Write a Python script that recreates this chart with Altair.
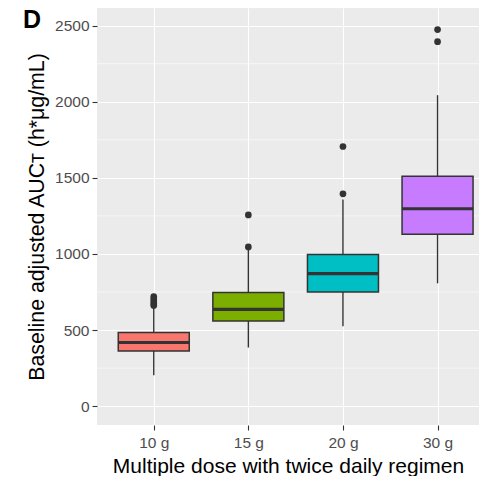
import altair as alt
import pandas as pd
import json

categories = ["10 g", "15 g", "20 g", "30 g"]
q1 = [363, 560, 750, 1129]
median = [418, 636, 870, 1297]
q3 = [484, 746, 997, 1511]
whisker_lo = [203, 385, 525, 807]
whisker_hi = [656, 1030, 1358, 2043]
colors = ["#F8766D", "#7CAE00", "#00BFC4", "#C77CFF"]

outlier_cat = ["10 g", "10 g", "10 g", "10 g", "10 g", "15 g", "15 g", "20 g", "20 g", "30 g", "30 g"]
outlier_val = [662, 675, 690, 705, 720, 1046, 1256, 1395, 1706, 2395, 2474]

major_ticks = [0, 500, 1000, 1500, 2000, 2500]
minor_ticks = [250, 750, 1250, 1750, 2250]

idx = {c: i + 1 for i, c in enumerate(categories)}
box = pd.DataFrame({"dose": categories, "pos": [idx[c] for c in categories],
                    "q1": q1, "median": median, "q3": q3, "lo": whisker_lo, "hi": whisker_hi})
outl = pd.DataFrame({"dose": outlier_cat, "pos": [idx[c] for c in outlier_cat], "value": outlier_val})

W, H = 382, 417
xdom = [0.4, 0.4 + W / 94.6]
ydom = [-124, 2616]
xscale = alt.Scale(domain=xdom, nice=False, zero=False, padding=0)
yscale = alt.Scale(domain=ydom, nice=False, zero=False, padding=0)

FONT = "Liberation Sans"
lab_expr = json.dumps(categories) + "[datum.value - 1]"
xaxis = alt.Axis(title="Multiple dose with twice daily regimen", values=[1, 2, 3, 4],
                 labelExpr=lab_expr, labelAngle=0,
                 grid=True, gridColor="white", gridWidth=1.1,
                 domain=False, tickColor="#333333", tickSize=5, tickWidth=1.1,
                 labelColor="#4d4d4d", labelFontSize=15.5, labelPadding=5,
                 titleFontSize=21, titleFontWeight="normal", titleColor="black",
                 titlePadding=5, labelFont=FONT, titleFont=FONT)
yaxis = alt.Axis(title="Baseline adjusted AUCᴛ (h*μg/mL)", values=major_ticks, format="d",
                 grid=True, gridColor="white", gridWidth=1.1, domain=False,
                 tickColor="#333333", tickSize=5, tickWidth=1.1,
                 labelColor="#4d4d4d", labelFontSize=15.5, labelPadding=3,
                 titleFontSize=21.3, titleFontWeight="normal", titleColor="black",
                 titlePadding=7, labelFont=FONT, titleFont=FONT)

base = alt.Chart(box)

minor = alt.Chart(pd.DataFrame({"v": minor_ticks})).mark_rule(
    color="white", strokeWidth=0.55).encode(
    y=alt.Y("v:Q", scale=yscale, axis=yaxis), x=alt.value(0), x2=alt.value(W))

whisk_up = base.mark_rule(color="#333333", strokeWidth=1.4).encode(
    x=alt.X("pos:Q", scale=xscale, axis=xaxis), y=alt.Y("q3:Q", scale=yscale), y2="hi:Q")
whisk_dn = base.mark_rule(color="#333333", strokeWidth=1.4).encode(
    x=alt.X("pos:Q", scale=xscale), y=alt.Y("lo:Q", scale=yscale), y2="q1:Q")
boxes = base.mark_bar(size=71, stroke="#333333", strokeWidth=1.5).encode(
    x=alt.X("pos:Q", scale=xscale), y=alt.Y("q1:Q", scale=yscale), y2="q3:Q",
    color=alt.Color("dose:N", scale=alt.Scale(domain=categories, range=colors), legend=None))
med = base.mark_tick(size=71, thickness=3.2, color="#333333", opacity=1, orient="horizontal").encode(
    x=alt.X("pos:Q", scale=xscale), y=alt.Y("median:Q", scale=yscale))
pts = alt.Chart(outl).mark_circle(size=45, color="#333333", opacity=1).encode(
    x=alt.X("pos:Q", scale=xscale), y=alt.Y("value:Q", scale=yscale))
label = alt.Chart(pd.DataFrame({"t": ["D"]})).mark_text(
    align="left", baseline="alphabetic", fontSize=25, fontWeight="bold",
    font=FONT, color="black").encode(
    x=alt.value(-74), y=alt.value(20), text="t:N")

chart = alt.layer(minor, whisk_up, whisk_dn, boxes, med, pts, label).properties(
    width=W, height=H,
    autosize=alt.AutoSizeParams(type="none"),
    padding={"left": 89, "top": 0, "right": 0, "bottom": 51},
    background="white",
).configure_view(fill="#EBEBEB", stroke=None)

chart.save("out.html", embed_options={"renderer": "svg", "actions": False})
